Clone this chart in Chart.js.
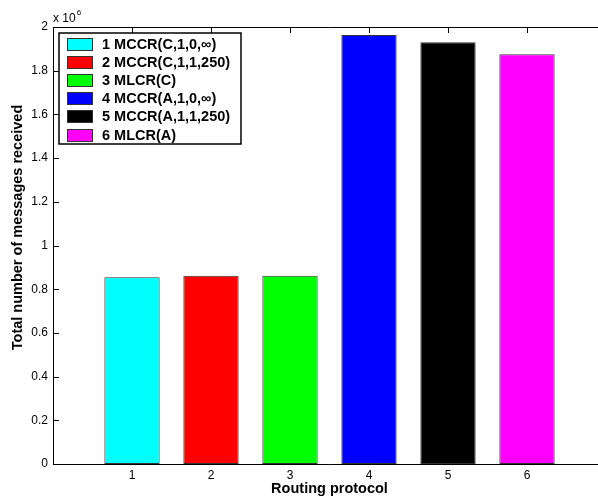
<!DOCTYPE html>
<html>
<head>
<meta charset="utf-8">
<script src="https://cdn.jsdelivr.net/npm/chart.js@4.4.0/dist/chart.umd.min.js"></script>
<style>
  html, body { margin: 0; padding: 0; background: #fff; overflow: hidden; }
  #wrap { width: 620px; height: 502px; }
</style>
</head>
<body>
<div id="wrap"><canvas id="c" width="620" height="502"></canvas></div>
<script>
// ---- data ----
const protocols = [1, 2, 3, 4, 5, 6];
const seriesNames = ['1 MCCR(C,1,0,\u221E)', '2 MCCR(C,1,1,250)', '3 MLCR(C)', '4 MCCR(A,1,0,\u221E)', '5 MCCR(A,1,1,250)', '6 MLCR(A)'];
const messagesMillions = [0.855, 0.862, 0.862, 1.963, 1.930, 1.875];
const barColors = ['#00ffff', '#ff0000', '#00ff00', '#0000ff', '#000000', '#ff00ff'];
const yTicks = [0, 0.2, 0.4, 0.6, 0.8, 1, 1.2, 1.4, 1.6, 1.8, 2];
const xTickLabels = ['1', '2', '3', '4', '5', '6'];
const yTitle = 'Total number of messages received';
const xTitle = 'Routing protocol';

const FONT = "'Liberation Sans', Arial, Helvetica, sans-serif";

const datasets = protocols.map((p, i) => ({
  label: seriesNames[i],
  data: [{ x: p, y: messagesMillions[i] }],
  backgroundColor: barColors[i],
  borderColor: '#333333',
  borderWidth: 1,
  borderSkipped: false
}));

const axesPlugin = {
  id: 'matlabAxes',
  afterDatasetsDraw(chart) {
    const ctx = chart.ctx;
    const a = chart.chartArea;
    const xs = chart.scales.x, ys = chart.scales.y;
    ctx.save();
    ctx.strokeStyle = '#000';
    ctx.lineWidth = 1;
    ctx.beginPath();
    ctx.moveTo(a.left + 0.5, a.top + 0.5); ctx.lineTo(a.left + 0.5, a.bottom + 0.5);
    ctx.moveTo(a.left, a.bottom + 0.5); ctx.lineTo(a.right, a.bottom + 0.5);
    ctx.moveTo(a.left, a.top + 0.5); ctx.lineTo(a.right, a.top + 0.5);
    ctx.stroke();
    ctx.beginPath();
    yTicks.forEach(v => {
      const y = Math.round(ys.getPixelForValue(v)) + 0.5;
      ctx.moveTo(a.left, y); ctx.lineTo(a.left + 6, y);
    });
    protocols.forEach(p => {
      const x = Math.round(xs.getPixelForValue(p)) + 0.5;
      ctx.moveTo(x, a.top); ctx.lineTo(x, a.top + 6);
    });
    ctx.stroke();
    // exponent label
    ctx.fillStyle = '#000';
    ctx.textBaseline = 'alphabetic';
    ctx.textAlign = 'left';
    ctx.font = '12px ' + FONT;
    ctx.fillText('x 10', a.left, a.top - 5);
    const w = ctx.measureText('x 10').width;
    ctx.font = '8px ' + FONT;
    ctx.fillText('6', a.left + w + 1, a.top - 12);
    // y axis title (rotated)
    ctx.save();
    ctx.translate(18, (a.top + a.bottom) / 2 - 18);
    ctx.rotate(-Math.PI / 2);
    ctx.textAlign = 'center';
    ctx.textBaseline = 'middle';
    ctx.font = 'bold 14.5px ' + FONT;
    ctx.fillText(yTitle, 0, 0);
    ctx.restore();
    ctx.restore();
  },
  afterDraw(chart) {
    const ctx = chart.ctx;
    const a = chart.chartArea;
    const bx = a.left + 6, by = a.top + 6, bw = 182, bh = 111;
    ctx.save();
    ctx.fillStyle = '#fff';
    ctx.fillRect(bx, by, bw, bh);
    ctx.strokeStyle = '#000';
    ctx.lineWidth = 1.5;
    ctx.strokeRect(bx, by, bw, bh);
    ctx.font = 'bold 14.5px ' + FONT;
    ctx.textBaseline = 'middle';
    ctx.textAlign = 'left';
    chart.data.datasets.forEach((ds, i) => {
      const cy = by + 11 + i * 18.2;
      ctx.fillStyle = ds.backgroundColor;
      ctx.fillRect(bx + 8, Math.round(cy - 6.5), 26, 13);
      ctx.strokeStyle = '#333';
      ctx.lineWidth = 1;
      ctx.strokeRect(bx + 8.5, Math.round(cy - 6.5) + 0.5, 25, 12);
      ctx.fillStyle = '#000';
      ctx.fillText(ds.label, bx + 43, cy + 0.5);
    });
    ctx.restore();
  }
};

new Chart(document.getElementById('c'), {
  type: 'bar',
  data: { datasets },
  options: {
    responsive: false,
    devicePixelRatio: 1,
    animation: false,
    layout: { padding: { top: 27, right: 14, left: 0, bottom: 0 } },
    plugins: { legend: { display: false }, tooltip: { enabled: false } },
    datasets: { bar: { grouped: false, barPercentage: 0.7, categoryPercentage: 1.0 } },
    scales: {
      x: {
        type: 'linear',
        offset: false,
        min: 0, max: 7,
        afterFit(s) { s.height = 38; },
        afterBuildTicks(s) { s.ticks = protocols.map(v => ({ value: v })); },
        grid: { display: false, drawTicks: false },
        border: { display: false },
        ticks: {
          padding: 4,
          color: '#000',
          font: { family: FONT, size: 12 },
          callback: (v) => { const i = protocols.indexOf(v); return i >= 0 ? xTickLabels[i] : ''; }
        },
        title: {
          display: true, text: xTitle, color: '#000',
          font: { family: FONT, size: 14.5, weight: 'bold' },
          padding: { top: 0, bottom: 4 }
        }
      },
      y: {
        type: 'linear',
        min: 0, max: 2,
        afterFit(s) { s.width = 53; },
        afterBuildTicks(s) { s.ticks = yTicks.map(v => ({ value: v })); },
        grid: { display: false, drawTicks: false },
        border: { display: false },
        ticks: {
          padding: 5,
          color: '#000',
          font: { family: FONT, size: 12 },
          callback: (v) => String(v)
        },
        title: { display: false }
      }
    }
  },
  plugins: [axesPlugin]
});
</script>
</body>
</html>
